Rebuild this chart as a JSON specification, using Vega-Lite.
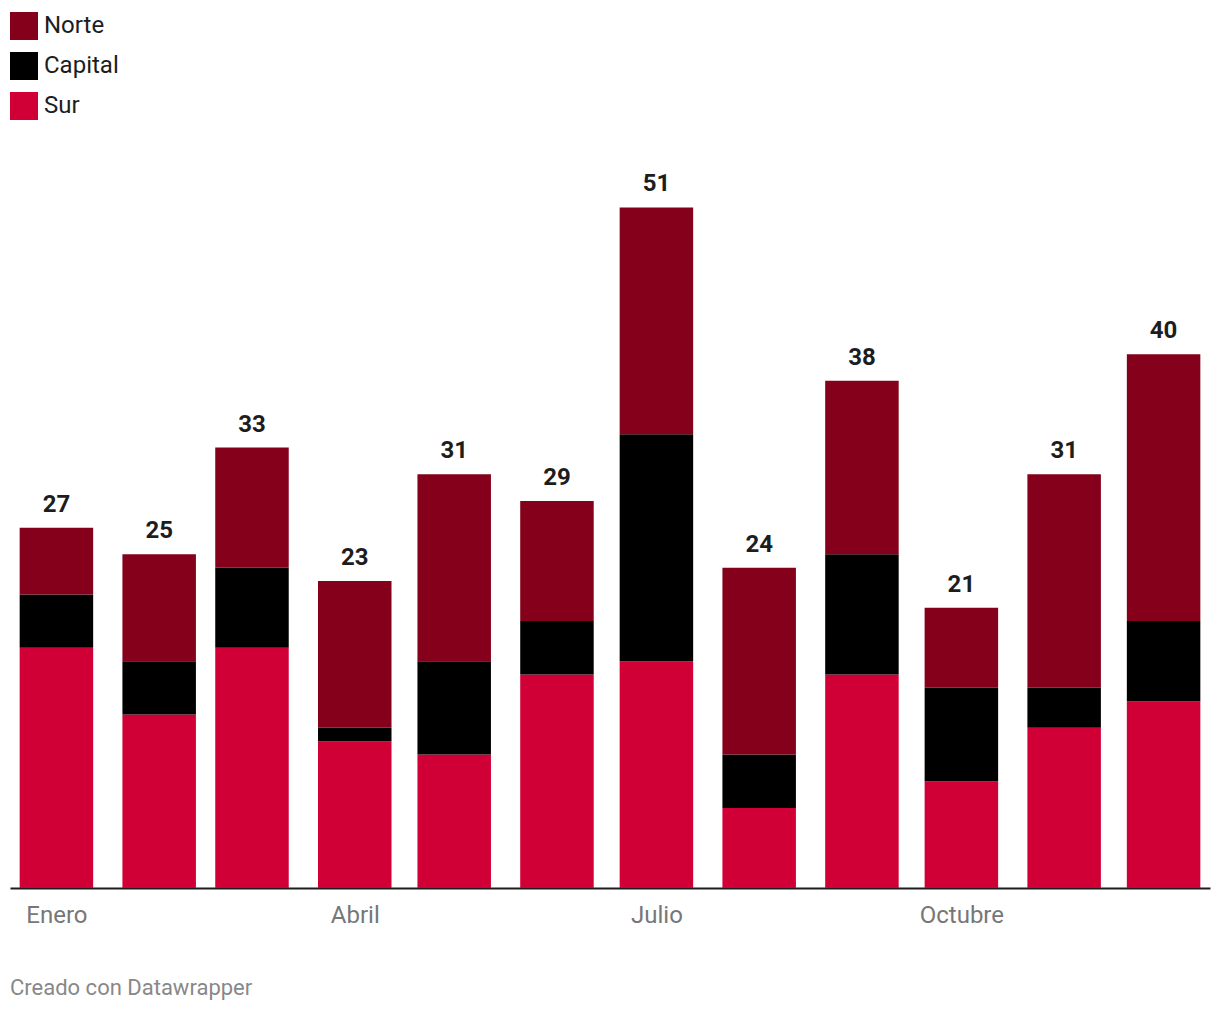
{
  "$schema": "https://vega.github.io/schema/vega-lite/v6.json",
  "autosize": "none",
  "width": 1200,
  "height": 734,
  "padding": {"left": 10, "top": 154, "right": 10, "bottom": 124},
  "background": "white",
  "config": {"view": {"stroke": null}, "font": "Roboto"},
  "title": {"text": "Creado con Datawrapper", "orient": "bottom", "anchor": "start", "fontSize": 22, "fontWeight": "normal", "color": "#888888", "font": "Roboto", "offset": 51},
  "data": {"values": [
    {"mes": "2023-01-01", "region": "Sur", "valor": 18}, {"mes": "2023-01-01", "region": "Capital", "valor": 4}, {"mes": "2023-01-01", "region": "Norte", "valor": 5},
    {"mes": "2023-02-01", "region": "Sur", "valor": 13}, {"mes": "2023-02-01", "region": "Capital", "valor": 4}, {"mes": "2023-02-01", "region": "Norte", "valor": 8},
    {"mes": "2023-03-01", "region": "Sur", "valor": 18}, {"mes": "2023-03-01", "region": "Capital", "valor": 6}, {"mes": "2023-03-01", "region": "Norte", "valor": 9},
    {"mes": "2023-04-01", "region": "Sur", "valor": 11}, {"mes": "2023-04-01", "region": "Capital", "valor": 1}, {"mes": "2023-04-01", "region": "Norte", "valor": 11},
    {"mes": "2023-05-01", "region": "Sur", "valor": 10}, {"mes": "2023-05-01", "region": "Capital", "valor": 7}, {"mes": "2023-05-01", "region": "Norte", "valor": 14},
    {"mes": "2023-06-01", "region": "Sur", "valor": 16}, {"mes": "2023-06-01", "region": "Capital", "valor": 4}, {"mes": "2023-06-01", "region": "Norte", "valor": 9},
    {"mes": "2023-07-01", "region": "Sur", "valor": 17}, {"mes": "2023-07-01", "region": "Capital", "valor": 17}, {"mes": "2023-07-01", "region": "Norte", "valor": 17},
    {"mes": "2023-08-01", "region": "Sur", "valor": 6}, {"mes": "2023-08-01", "region": "Capital", "valor": 4}, {"mes": "2023-08-01", "region": "Norte", "valor": 14},
    {"mes": "2023-09-01", "region": "Sur", "valor": 16}, {"mes": "2023-09-01", "region": "Capital", "valor": 9}, {"mes": "2023-09-01", "region": "Norte", "valor": 13},
    {"mes": "2023-10-01", "region": "Sur", "valor": 8}, {"mes": "2023-10-01", "region": "Capital", "valor": 7}, {"mes": "2023-10-01", "region": "Norte", "valor": 6},
    {"mes": "2023-11-01", "region": "Sur", "valor": 12}, {"mes": "2023-11-01", "region": "Capital", "valor": 3}, {"mes": "2023-11-01", "region": "Norte", "valor": 16},
    {"mes": "2023-12-01", "region": "Sur", "valor": 14}, {"mes": "2023-12-01", "region": "Capital", "valor": 6}, {"mes": "2023-12-01", "region": "Norte", "valor": 20}
  ]},
  "layer": [
    {
      "mark": {"type": "bar", "size": 73.5},
      "encoding": {
        "x": {"field": "mes", "type": "temporal",
          "scale": {"type": "utc", "nice": false, "padding": 0, "domain": [{"year": 2022, "month": 12, "date": 18, "utc": true}, {"year": 2023, "month": 12, "date": 15, "utc": true}]},
          "axis": {"title": null, "values": [{"year": 2023, "month": 1, "date": 1, "utc": true}, {"year": 2023, "month": 4, "date": 1, "utc": true}, {"year": 2023, "month": 7, "date": 1, "utc": true}, {"year": 2023, "month": 10, "date": 1, "utc": true}],
            "labelExpr": "['Enero','Febrero','Marzo','Abril','Mayo','Junio','Julio','Agosto','Septiembre','Octubre','Noviembre','Diciembre'][utcmonth(datum.value)]",
            "ticks": false, "grid": false, "domainColor": "#1d1d1d", "domainWidth": 2, "labelColor": "#777777", "labelFontSize": 24, "labelFont": "Roboto", "labelPadding": 15, "labelFlush": false, "labelOverlap": false}},
        "y": {"field": "valor", "type": "quantitative", "aggregate": "sum", "stack": "zero", "scale": {"domain": [0, 55], "nice": false}, "axis": null},
        "color": {"field": "region", "type": "nominal",
          "scale": {"domain": ["Norte", "Capital", "Sur"], "range": ["#85001a", "#000000", "#d00036"]},
          "legend": {"title": null, "orient": "none", "legendX": 0, "legendY": -142, "symbolType": "square", "symbolSize": 784, "symbolStrokeWidth": 0, "symbolOpacity": 1, "labelFontSize": 24, "labelFont": "Roboto", "labelColor": "#1d1d1d", "labelBaseline": "middle", "labelOffset": 6, "rowPadding": 12}},
        "order": {"field": "orden", "type": "quantitative"}
      },
      "transform": [{"calculate": "datum.region == 'Sur' ? 0 : datum.region == 'Capital' ? 1 : 2", "as": "orden"}]
    },
    {
      "transform": [{"aggregate": [{"op": "sum", "field": "valor", "as": "total"}], "groupby": ["mes"]}],
      "mark": {"type": "text", "baseline": "bottom", "dy": -11, "fontSize": 24, "fontWeight": "bold", "color": "#1d1d1d", "font": "Roboto"},
      "encoding": {
        "x": {"field": "mes", "type": "temporal"},
        "y": {"field": "total", "type": "quantitative"},
        "text": {"field": "total", "type": "quantitative"}
      }
    }
  ]
}
